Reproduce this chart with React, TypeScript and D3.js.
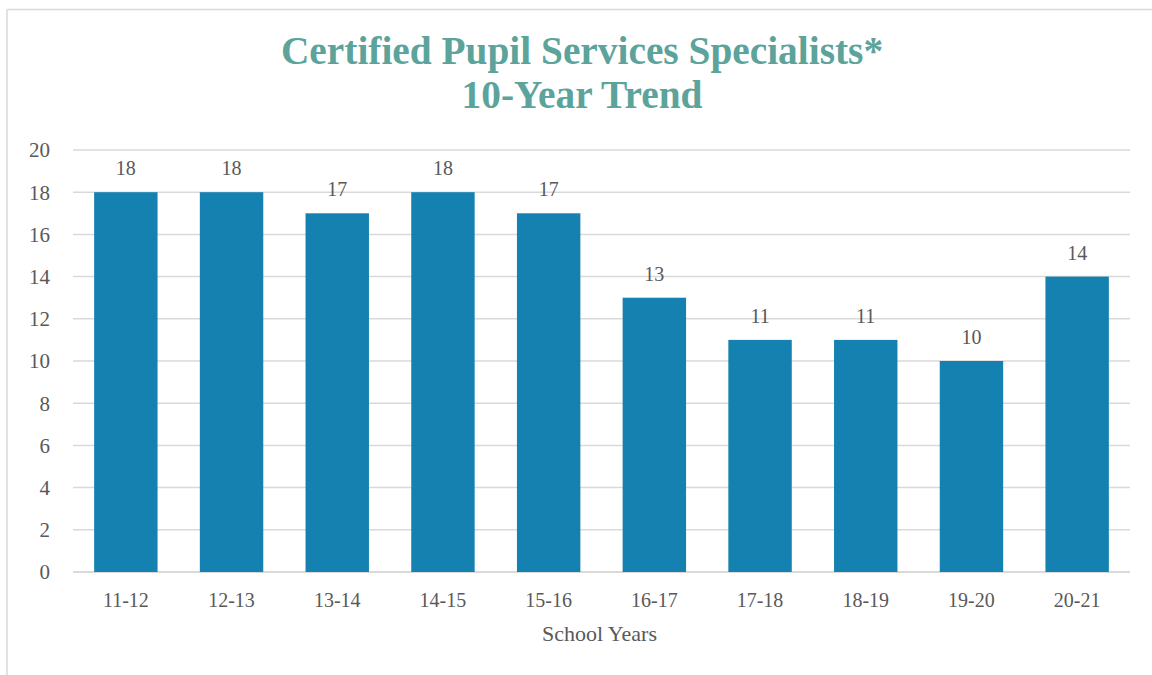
import React from "react";
import * as d3 from "d3";

const categories = ["11-12", "12-13", "13-14", "14-15", "15-16", "16-17", "17-18", "18-19", "19-20", "20-21"];
const values = [18, 18, 17, 18, 17, 13, 11, 11, 10, 14];
const yTicks = [0, 2, 4, 6, 8, 10, 12, 14, 16, 18, 20];
const titleLines = ["Certified Pupil Services Specialists*", "10-Year Trend"];
const xTitle = "School Years";

const W = 1152;
const H = 675;
const left = 73;
const right = 1130;
const top = 150;
const bottom = 572;

export default function App() {
  const x = d3.scaleBand<string>().domain(categories).range([left, right]).paddingInner(0.4).paddingOuter(0.2);
  const y = d3.scaleLinear().domain([0, 20]).range([bottom, top]);
  const font = "'Liberation Serif', 'DejaVu Serif', serif";
  const cx = 582;
  return (
    <svg width={W} height={H} style={{ position: "absolute", left: 0, top: 0 }}>
      <rect x={0} y={0} width={W} height={H} fill="#fff" />
      <line x1={7} y1={9.5} x2={W} y2={9.5} stroke="#d9d9d9" strokeWidth={1.5} />
      <line x1={7} y1={9.5} x2={7} y2={H} stroke="#d9d9d9" strokeWidth={1.5} />
      {titleLines.map((t, i) => (
        <g key={i} transform={`translate(${cx},${64 + i * 44}) scale(0.96,1)`}>
          <text x={0} y={0} textAnchor="middle" fontFamily={font} fontWeight="bold" fontSize={41} fill="#5BA39B">
            {t}
          </text>
        </g>
      ))}
      {yTicks.map((t) => (
        <g key={t}>
          <line x1={left} x2={right} y1={y(t)} y2={y(t)} stroke="#d9d9d9" strokeWidth={t === 0 ? 2 : 1.5} />
          <text x={50} y={y(t)} dy="0.35em" textAnchor="end" fontFamily={font} fontSize={21} fill="#595959">{t}</text>
        </g>
      ))}
      {categories.map((c, i) => (
        <g key={c}>
          <rect x={x(c)} y={y(values[i])} width={x.bandwidth()} height={y(0) - y(values[i])} fill="#1581B0" />
          <text x={x(c)! + x.bandwidth() / 2} y={y(values[i]) - 17} textAnchor="middle" fontFamily={font} fontSize={20} fill="#595959">{values[i]}</text>
          <text x={x(c)! + x.bandwidth() / 2} y={607} textAnchor="middle" fontFamily={font} fontSize={20} fill="#595959">{c}</text>
        </g>
      ))}
      <text x={(left + right) / 2 - 2} y={641} textAnchor="middle" fontFamily={font} fontSize={22} fill="#595959">{xTitle}</text>
    </svg>
  );
}
